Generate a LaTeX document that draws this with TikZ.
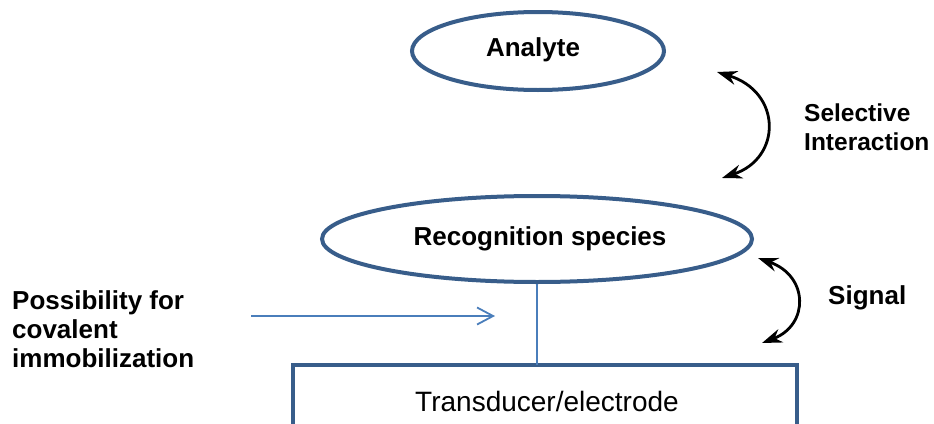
\documentclass[tikz,border=0pt]{standalone}
\usepackage{fontspec}
\setmainfont{Liberation Sans}
\usetikzlibrary{arrows.meta,shapes.geometric}
\definecolor{shapeblue}{HTML}{385D8A}
\definecolor{lineblue}{HTML}{4A7EBB}
\tikzset{
  oval/.style={draw=shapeblue, line width=4pt, ellipse, inner sep=0pt},
  lbl/.style={font=\fontsize{26}{29}\selectfont\bfseries, inner sep=0pt},
  curvarrow/.style={black, line width=2.8pt, {Stealth[length=20pt,width=14pt]}-{Stealth[length=20pt,width=14pt]}},
  blueline/.style={lineblue, line width=1.8pt},
}
\begin{document}
\begin{tikzpicture}[x=1pt,y=-1pt]
\useasboundingbox (0,0) rectangle (934,423);
% ellipses
\node[oval, minimum width=252pt, minimum height=78pt] (analyte) at (538,51) {};
\node[lbl] at (533,50) {Analyte};
\node[oval, minimum width=430pt, minimum height=86pt] (recog) at (537,239) {};
\node[lbl] at (540,239) {Recognition species};
% transducer box
\node[minimum width=504pt, minimum height=80pt, inner sep=0pt] (box) at (545,405) {};
\node[font=\fontsize{28}{32}\selectfont, inner sep=0pt] (trans) at (547,401) {Transducer/electrode};
\draw[shapeblue, line width=4pt, line join=miter] (box.south west) -- (box.north west) -- (box.north east) -- (box.south east);
% connector
\draw[blueline] (recog.south) -- (recog.south |- box.north);
% horizontal arrow
\coordinate (hstart) at (251,316);
\coordinate (hend) at (495,316);
\draw[blueline, -{Straight Barb[length=16pt,width=17pt,line width=1.8pt]}] (hstart) -- (hend);
% curved arrows
\coordinate (s1) at (717,72);
\coordinate (s2) at (722,178);
\draw[curvarrow] (s1) .. controls (782,92) and (782,158) .. (s2);
\coordinate (g1) at (758,258);
\coordinate (g2) at (762,343);
\draw[curvarrow] (g1) .. controls (809,276) and (809,325) .. (g2);
% labels
\node[lbl, font=\fontsize{24.5}{29}\selectfont\bfseries, align=left, anchor=west] (sel) at (804,127) {Selective\\Interaction};
\node[lbl, anchor=west] (sig) at (828,298) {Signal};
\node[lbl, align=left, anchor=west] (poss) at (12,329) {Possibility for\\covalent\\immobilization};
\end{tikzpicture}
\end{document}
